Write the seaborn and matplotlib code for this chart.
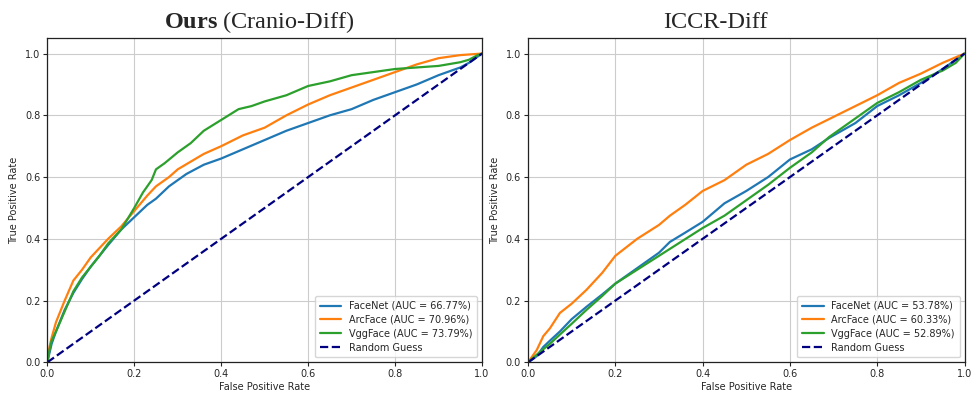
import numpy as np
import seaborn as sns
import matplotlib.pyplot as plt

# ROC points (left: Cranio-Diff, right: ICCR-Diff)
ours_facenet_fpr = [0, 0.005, 0.01, 0.02, 0.04, 0.06, 0.08, 0.10, 0.12, 0.14, 0.17, 0.20, 0.23, 0.25,
                    0.28, 0.32, 0.36, 0.40, 0.45, 0.50, 0.55, 0.60, 0.65, 0.70, 0.75, 0.80, 0.85, 0.90,
                    0.95, 0.97, 0.99, 1.0]
ours_facenet_tpr = [0, 0.03, 0.06, 0.10, 0.17, 0.225, 0.27, 0.31, 0.345, 0.38, 0.43, 0.47, 0.51, 0.53,
                    0.57, 0.61, 0.64, 0.66, 0.69, 0.72, 0.75, 0.775, 0.80, 0.82, 0.85, 0.875, 0.90, 0.93,
                    0.955, 0.97, 0.99, 1.0]

ours_arcface_fpr = [0, 0.005, 0.01, 0.02, 0.04, 0.06, 0.08, 0.10, 0.12, 0.14, 0.17, 0.20, 0.23, 0.25,
                    0.28, 0.30, 0.33, 0.36, 0.40, 0.45, 0.50, 0.55, 0.60, 0.65, 0.70, 0.75, 0.80, 0.85,
                    0.90, 0.95, 1.0]
ours_arcface_tpr = [0, 0.05, 0.08, 0.13, 0.20, 0.265, 0.30, 0.34, 0.37, 0.40, 0.44, 0.49, 0.54, 0.57,
                    0.60, 0.625, 0.65, 0.675, 0.70, 0.735, 0.76, 0.80, 0.835, 0.865, 0.89, 0.915, 0.94,
                    0.965, 0.985, 0.995, 1.0]

ours_vggface_fpr = [0, 0.005, 0.01, 0.02, 0.04, 0.06, 0.08, 0.10, 0.12, 0.14, 0.17, 0.20, 0.22, 0.24,
                    0.25, 0.27, 0.30, 0.33, 0.36, 0.40, 0.44, 0.47, 0.50, 0.55, 0.60, 0.65, 0.70, 0.75,
                    0.80, 0.85, 0.90, 0.95, 0.97, 0.99, 1.0]
ours_vggface_tpr = [0, 0.04, 0.07, 0.10, 0.165, 0.23, 0.275, 0.31, 0.345, 0.385, 0.43, 0.50, 0.55, 0.59,
                    0.625, 0.645, 0.68, 0.71, 0.75, 0.785, 0.82, 0.83, 0.845, 0.865, 0.895, 0.91, 0.93,
                    0.94, 0.95, 0.955, 0.96, 0.972, 0.98, 0.995, 1.0]

iccr_facenet_fpr = [0, 0.02, 0.035, 0.05, 0.073, 0.10, 0.134, 0.17, 0.20, 0.25, 0.30, 0.325, 0.36, 0.40,
                    0.45, 0.50, 0.55, 0.60, 0.65, 0.69, 0.75, 0.80, 0.85, 0.90, 0.95, 1.0]
iccr_facenet_tpr = [0, 0.02, 0.05, 0.07, 0.10, 0.14, 0.18, 0.22, 0.255, 0.305, 0.355, 0.39, 0.42, 0.455,
                    0.515, 0.555, 0.60, 0.657, 0.69, 0.727, 0.775, 0.83, 0.865, 0.905, 0.95, 1.0]

iccr_arcface_fpr = [0, 0.01, 0.02, 0.035, 0.05, 0.073, 0.10, 0.134, 0.17, 0.20, 0.25, 0.30, 0.325, 0.36,
                    0.40, 0.45, 0.50, 0.55, 0.60, 0.65, 0.70, 0.75, 0.80, 0.85, 0.90, 0.95, 1.0]
iccr_arcface_tpr = [0, 0.02, 0.04, 0.085, 0.11, 0.16, 0.19, 0.235, 0.29, 0.345, 0.40, 0.445, 0.475, 0.51,
                    0.555, 0.59, 0.64, 0.675, 0.72, 0.76, 0.795, 0.83, 0.865, 0.905, 0.935, 0.97, 1.0]

iccr_vggface_fpr = [0, 0.02, 0.05, 0.073, 0.10, 0.134, 0.17, 0.20, 0.25, 0.30, 0.35, 0.40, 0.45, 0.50,
                    0.55, 0.60, 0.65, 0.69, 0.75, 0.80, 0.85, 0.90, 0.95, 0.98, 1.0]
iccr_vggface_tpr = [0, 0.025, 0.06, 0.09, 0.125, 0.17, 0.215, 0.255, 0.30, 0.345, 0.39, 0.435, 0.475, 0.525,
                    0.575, 0.63, 0.68, 0.73, 0.79, 0.84, 0.875, 0.915, 0.945, 0.97, 1.0]

ours_auc = [66.77, 70.96, 73.79]
iccr_auc = [53.78, 60.33, 52.89]
model_names = ["FaceNet", "ArcFace", "VggFace"]
colors = ["#1f77b4", "#ff7f0e", "#2ca02c"]

sns.set_style("ticks")
plt.rcParams["mathtext.fontset"] = "custom"
plt.rcParams["mathtext.rm"] = "Liberation Serif"
plt.rcParams["mathtext.bf"] = "Liberation Serif:bold"

fig = plt.figure(figsize=(9.73, 3.93), dpi=100)
ax1 = fig.add_axes([0.0486, 0.078, 0.4468, 0.825])
ax2 = fig.add_axes([0.5427, 0.078, 0.4486, 0.825])

# titles are not centred the same way over both panels in the reference
panels = [
    (ax1, [(ours_facenet_fpr, ours_facenet_tpr), (ours_arcface_fpr, ours_arcface_tpr),
           (ours_vggface_fpr, ours_vggface_tpr)], ours_auc, r"$\mathbf{Ours}$ (Cranio-Diff)", 0.487),
    (ax2, [(iccr_facenet_fpr, iccr_facenet_tpr), (iccr_arcface_fpr, iccr_arcface_tpr),
           (iccr_vggface_fpr, iccr_vggface_tpr)], iccr_auc, "ICCR-Diff", 0.43),
]

for ax, curves, aucs, title, tx in panels:
    for (fpr, tpr), name, auc, c in zip(curves, model_names, aucs, colors):
        sns.lineplot(x=fpr, y=tpr, ax=ax, color=c, lw=1.6, estimator=None, sort=False,
                     label=f"{name} (AUC = {auc:.2f}%)")
    sns.lineplot(x=[0, 1], y=[0, 1], ax=ax, color="navy", lw=1.6, linestyle="--",
                 estimator=None, sort=False, label="Random Guess")
    ax.set_xlim(0, 1)
    ax.set_ylim(0, 1.05)
    ax.set_xticks(np.arange(0, 1.01, 0.2))
    ax.set_yticks(np.arange(0, 1.01, 0.2))
    ax.tick_params(labelsize=7, length=3, width=0.8, pad=2)
    ax.grid(True, color="#cccccc", lw=0.8)
    ax.set_axisbelow(True)
    for s in ax.spines.values():
        s.set_color("#222222")
        s.set_linewidth(0.9)
    ax.set_xlabel("False Positive Rate", fontsize=7, labelpad=2)
    ax.set_ylabel("True Positive Rate", fontsize=7, labelpad=4)
    t = ax.set_title(title, fontsize=17.5, family="Liberation Serif", pad=7)
    t.set_x(tx)
    ax.legend(loc="lower right", fontsize=7, frameon=True, edgecolor="#cccccc",
              fancybox=True, handlelength=2.2, borderpad=0.5, labelspacing=0.4)

fig.savefig("out.png", dpi=100)
